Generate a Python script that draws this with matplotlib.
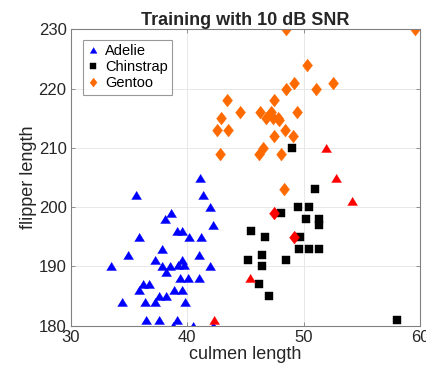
import numpy as np
import matplotlib
matplotlib.use("Agg")
import matplotlib.pyplot as plt

plt.rcParams['font.family'] = ['Liberation Sans', 'DejaVu Sans']

# penguin measurements: culmen length (mm) vs flipper length (mm)
adelie_x = [41.1, 35.6, 41.4, 42.0, 38.6, 38.1, 42.2, 39.1, 39.6, 35.9, 40.2, 41.2,
            37.8, 34.9, 41.0, 37.2, 39.6, 33.5, 37.8, 38.5, 39.2, 39.7, 42.0, 38.2,
            39.4, 40.1, 41.0, 36.2, 36.7, 35.9, 38.9, 39.6, 37.6, 38.2, 34.4, 36.4,
            37.2, 39.8, 36.5, 37.6, 39.1, 38.8, 40.5, 42.2]
adelie_y = [205, 202, 202, 200, 199, 198, 197, 196, 196, 195, 195, 195,
            193, 192, 192, 191, 191, 190, 190, 190, 190.3, 190.3, 190, 189,
            188, 188, 188, 187, 187, 186, 186, 186, 185, 185, 184, 184,
            184, 184, 181, 181, 181, 180, 180, 180]

chinstrap_x = [49.0, 51.0, 48.1, 49.5, 50.5, 50.2, 51.3, 51.3, 45.5, 46.7, 49.7,
               49.6, 50.5, 51.3, 46.4, 45.2, 48.5, 46.4, 46.2, 47.0, 58.0]
chinstrap_y = [210, 203, 199, 200, 200, 198, 198, 197, 196, 195, 195,
               193, 193, 193, 192, 191, 191, 190, 187, 185, 181]

gentoo_x = [48.5, 59.6, 50.3, 49.2, 52.5, 48.5, 51.1, 43.4, 47.5, 44.5, 46.3, 47.2,
            49.4, 46.8, 47.4, 47.8, 47.9, 42.9, 42.6, 43.5, 48.4, 47.5, 49.1, 42.8,
            46.5, 46.2, 48.1, 48.3]
gentoo_y = [230, 230, 224, 221, 221, 220, 220, 218, 218, 216, 216, 216,
            216, 215, 215, 215, 214.7, 215, 213, 213, 213, 212, 212, 209,
            210, 209, 209, 203]

# misclassified samples
wrong_tri_x = [42.3, 45.4, 51.9, 52.8, 54.2]
wrong_tri_y = [181, 188, 210, 205, 201]
wrong_dia_x = [47.45, 49.2]
wrong_dia_y = [199, 195]

tri = [(-1, -0.8), (1, -0.8), (0, 0.85)]
dia = [(0, 1), (0.78, 0), (0, -1), (-0.78, 0)]

fig = plt.figure(figsize=(4.27, 3.73), dpi=100)
ax = fig.add_axes([0.1656, 0.1268, 0.818, 0.7946])

ax.plot(adelie_x, adelie_y, ls='none', marker=tri, ms=7.2, color='#0000ff',
        mec='#0000ff', mew=0.3, label='Adelie')
ax.plot(chinstrap_x, chinstrap_y, ls='none', marker='s', ms=5.3, color='black',
        mec='black', mew=0.3, label='Chinstrap')
ax.plot(gentoo_x, gentoo_y, ls='none', marker=dia, ms=9.3, color='#ff6a00',
        mec='#ff6a00', mew=0.3, label='Gentoo')
ax.plot(wrong_tri_x, wrong_tri_y, ls='none', marker=tri, ms=7.2, color='red',
        mec='red', mew=0.3)
ax.plot(wrong_dia_x, wrong_dia_y, ls='none', marker=dia, ms=9.3, color='red',
        mec='red', mew=0.3)

ax.set_xlim(30, 60)
ax.set_ylim(180, 230)
ax.set_xticks([30, 40, 50, 60])
ax.set_yticks([180, 190, 200, 210, 220, 230])
ax.grid(True, color='#e8e8e8', lw=0.7)
ax.set_axisbelow(True)
ax.tick_params(direction='in', length=3, width=0.6, colors='#808080',
               labelcolor='#262626', labelsize=12, top=True, right=True, pad=3)
for s in ax.spines.values():
    s.set_color('#808080')
    s.set_linewidth(0.8)

ax.set_xlabel('culmen length', fontsize=13, color='#262626', labelpad=1)
ax.set_ylabel('flipper length', fontsize=13, color='#262626', labelpad=1)
ax.set_title('Training with 10 dB SNR', fontsize=13, fontweight='bold',
             color='#262626', pad=3)

leg = ax.legend(loc='upper left', bbox_to_anchor=(0.035, 0.965), fontsize=10.5,
                frameon=True, fancybox=False, edgecolor='#808080',
                handlelength=0.8, handletextpad=0.4, borderpad=0.3,
                labelspacing=0.15, borderaxespad=0, markerscale=0.7)
leg.get_frame().set_linewidth(0.8)

fig.savefig('out.png', dpi=100)
